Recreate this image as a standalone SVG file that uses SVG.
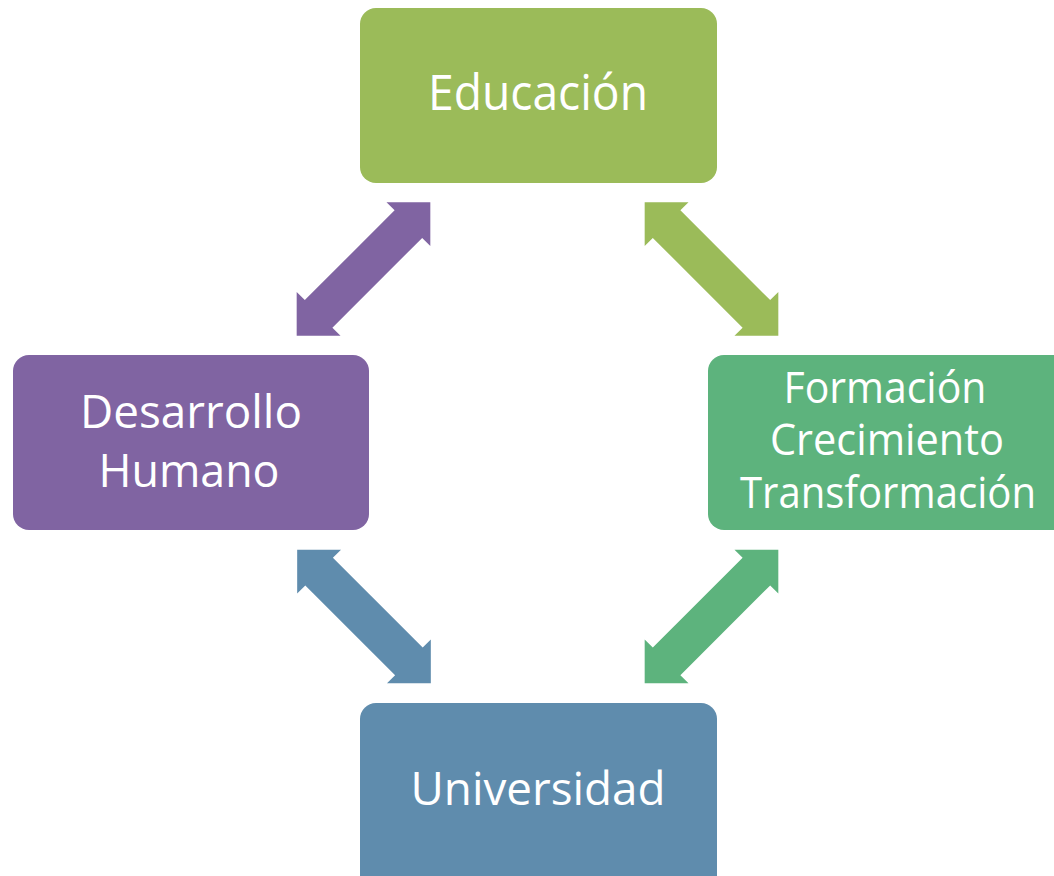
<svg xmlns="http://www.w3.org/2000/svg" xmlns:xlink="http://www.w3.org/1999/xlink" width="1054" height="876" viewBox="0 0 1054 876">
<style>
.box{stroke:none}
.lbl{font-family:"Open Sans","Noto Sans","Liberation Sans",sans-serif;fill:#ffffff;text-anchor:middle}
</style>
<defs>
<path id="dbl" d="M94.5,0 L63.5,-31 L63.5,-19.5 L-63.5,-19.5 L-63.5,-31 L-94.5,0 L-63.5,31 L-63.5,19.5 L63.5,19.5 L63.5,31 Z"/>
</defs>
<rect width="1054" height="876" fill="#ffffff"/>
<g id="connectors">
<use xlink:href="#dbl" href="#dbl" transform="translate(363.5,269) rotate(-45)" fill="#8064A2"/>
<use xlink:href="#dbl" href="#dbl" transform="translate(711.5,269) rotate(45)" fill="#9BBB59"/>
<use xlink:href="#dbl" href="#dbl" transform="translate(364,616.5) rotate(45)" fill="#5F8CAD"/>
<use xlink:href="#dbl" href="#dbl" transform="translate(711.5,616.5) rotate(-45)" fill="#5DB37D"/>
</g>
<g id="educacion">
<rect class="box" x="360" y="8" width="357" height="175" rx="16" fill="#9BBB59"/>
<text class="lbl" x="538" y="110" font-size="49" textLength="220" lengthAdjust="spacingAndGlyphs">Educación</text>
</g>
<g id="formacion">
<rect class="box" x="708" y="355" width="360" height="175" rx="16" fill="#5DB37D"/>
<text class="lbl" x="885" y="403" font-size="43" textLength="203" lengthAdjust="spacingAndGlyphs">Formación</text>
<text class="lbl" x="887" y="455" font-size="43" textLength="234" lengthAdjust="spacingAndGlyphs">Crecimiento</text>
<text class="lbl" x="888" y="508" font-size="43" textLength="296" lengthAdjust="spacingAndGlyphs">Transformación</text>
</g>
<g id="desarrollo">
<rect class="box" x="13" y="355" width="356" height="175" rx="16" fill="#8064A2"/>
<text class="lbl" x="191" y="428" font-size="46" textLength="222" lengthAdjust="spacingAndGlyphs">Desarrollo</text>
<text class="lbl" x="189" y="487" font-size="46" textLength="181" lengthAdjust="spacingAndGlyphs">Humano</text>
</g>
<g id="universidad">
<rect class="box" x="360" y="703" width="357" height="190" rx="16" fill="#5F8CAD"/>
<text class="lbl" x="538" y="805" font-size="46" textLength="255" lengthAdjust="spacingAndGlyphs">Universidad</text>
</g>
</svg>
